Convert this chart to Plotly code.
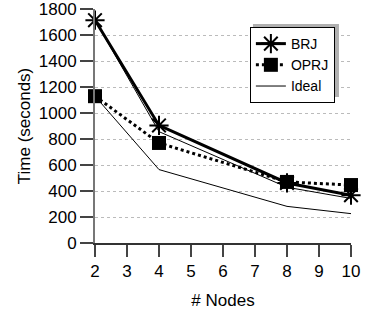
import plotly.graph_objects as go

nodes = [2, 4, 8, 10]
brj = [1715, 905, 462, 368]
oprj = [1130, 770, 470, 446]
ideal_hi = [1715, 857, 429, 343]
ideal_lo = [1130, 565, 282, 226]

FONT = "Liberation Sans, Arial, sans-serif"

fig = go.Figure()
fig.add_trace(go.Scatter(x=nodes, y=ideal_hi, mode="lines", name="Ideal",
                         line=dict(color="black", width=1), showlegend=False, cliponaxis=False))
fig.add_trace(go.Scatter(x=nodes, y=brj, mode="lines+markers", name="BRJ",
                         line=dict(color="black", width=3),
                         marker=dict(symbol="asterisk-open", size=16, color="black",
                                     line=dict(color="black", width=2)), cliponaxis=False))
fig.add_trace(go.Scatter(x=nodes, y=oprj, mode="lines+markers", name="OPRJ",
                         line=dict(color="black", width=3, dash="dot"),
                         marker=dict(symbol="square", size=14, color="black"), cliponaxis=False))
fig.add_trace(go.Scatter(x=nodes, y=ideal_lo, mode="lines", name="Ideal",
                         line=dict(color="black", width=1), cliponaxis=False))

# legend drop shadow (gray, offset up-right)
fig.add_shape(type="rect", xref="paper", yref="paper",
              x0=0.617, x1=0.953, y0=0.624, y1=0.936,
              fillcolor="#b0b0b0", line=dict(width=0), layer="above")

fig.update_layout(
    width=366, height=312,
    margin=dict(l=95, r=15, t=9, b=69),
    paper_bgcolor="white", plot_bgcolor="white",
    font=dict(family=FONT, size=17, color="black"),
    showlegend=True,
    legend=dict(x=0.605, y=0.923, xanchor="left", yanchor="top",
                bgcolor="white", bordercolor="black", borderwidth=1,
                font=dict(family=FONT, size=14, color="black"),
                itemwidth=30, tracegroupgap=0),
    xaxis=dict(range=[2, 10], tickmode="array", tickvals=list(range(2, 11)),
               automargin=False,
               showgrid=False, zeroline=False, showline=True, linecolor="#333", linewidth=2,
               ticks="outside", ticklen=12, tickwidth=2, tickcolor="#444",
               title=dict(text="# Nodes", font=dict(size=17), standoff=14)),
    yaxis=dict(range=[0, 1801], tickmode="array", tickvals=list(range(0, 1801, 200)),
               automargin=False,
               showgrid=True, gridcolor="#bbbbbb", gridwidth=1, griddash="3px,3px",
               zeroline=False, showline=True, linecolor="#777", linewidth=2,
               ticks="outside", ticklen=13, tickwidth=2, tickcolor="#444",
               title=dict(text="Time (seconds)", font=dict(size=17), standoff=4)),
)

fig.write_html("out.html", config={"displayModeBar": False},
               post_script="document.body.style.margin='0';")
